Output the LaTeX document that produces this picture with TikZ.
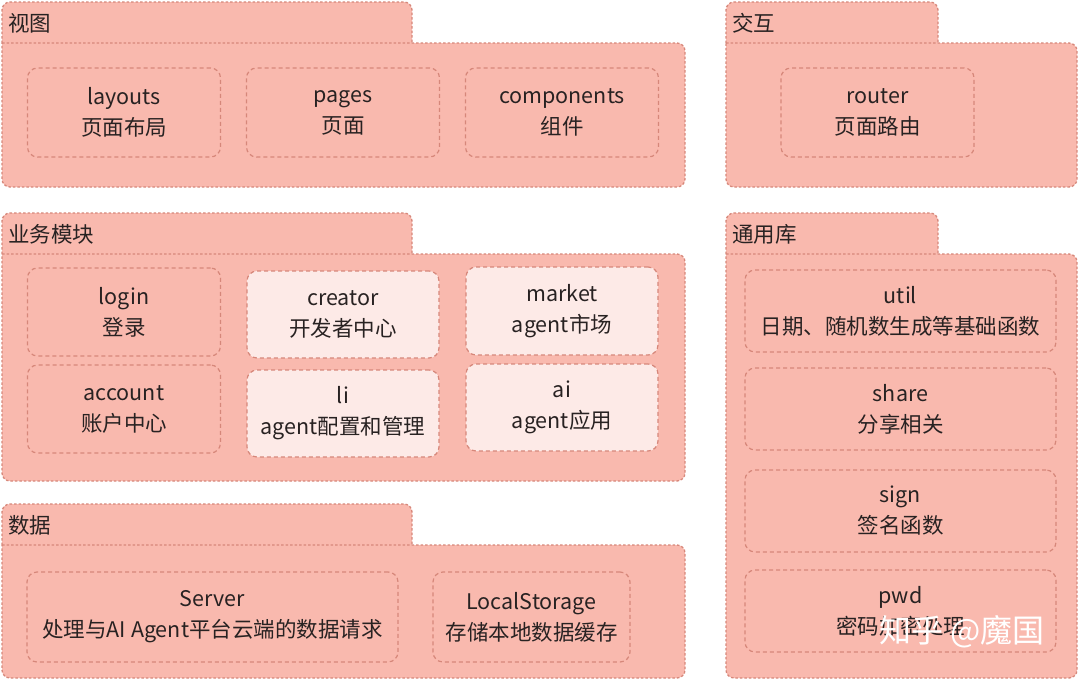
\documentclass[tikz,border=0pt]{standalone}
\usepackage{fontspec}
\setmainfont{Noto Sans CJK SC}
\usepackage{tikz}
\usetikzlibrary{positioning}
\definecolor{pkgfill}{RGB}{249,185,174}
\definecolor{pkgline}{RGB}{214,135,122}
\definecolor{modlight}{RGB}{253,234,231}
\definecolor{txt}{RGB}{40,34,34}
\newcommand{\pkg}[7]{% tab + body of one package: x, y, tab width, width, body height, name, label
  \filldraw[pkgbox] (#1,{#2+41}) [rounded corners=8pt] -- (#1,#2) -- ({#1+#3},#2) -- ({#1+#3},{#2+41});
  \filldraw[pkgbox] (#1,{#2+41}) [rounded corners=8pt] -- ({#1+#4},{#2+41}) -- ({#1+#4},{#2+41+#5})
    -- (#1,{#2+41+#5}) -- (#1,{#2+41});
  \node[pkglabel] (#6) at ({#1+4},{#2+21}) {#7};}

\begin{document}
\begin{tikzpicture}[x=1pt,y=-1pt,
    font=\fontsize{21.5}{31}\selectfont, text=txt,
    pkgbox/.style={fill=pkgfill, draw=pkgline, line width=1.3pt, dash pattern=on 2.5pt off 2pt},
    pkglabel/.style={anchor=west, inner sep=2pt},
    mod/.style={draw=pkgline, fill=pkgfill, line width=1.2pt, dash pattern=on 4pt off 3pt,
      rounded corners=10pt, align=center, inner sep=0pt, minimum width=193pt, minimum height=89pt},
    modl/.style={mod, fill=modlight},
    wmark/.style={font=\fontsize{32}{32}\selectfont, text=white, anchor=west}]
\useasboundingbox (0,0) rectangle (1080,681);

% ---- packages
\pkg{2}{2}{410}{683}{144}{view}{视图}
\pkg{726}{2}{212}{351}{144}{inter}{交互}
\pkg{2}{213}{410}{683}{227}{biz}{业务模块}
\pkg{726}{213}{212}{351}{424}{lib}{通用库}
\pkg{2}{504}{410}{683}{133}{data}{数据}

% ---- 视图
\node[mod] (layouts) at (124,112.5) {layouts\\页面布局};
\node[mod] (pages) at (343,112.5) {pages\\页面};
\node[mod] (components) at (562,112.5) {components\\组件};

% ---- 交互
\node[mod] (router) at (877.5,112.5) {router\\页面路由};

% ---- 业务模块
\node[mod, minimum height=88pt] (login) at (124,312) {login\\登录};
\node[mod, minimum height=88pt] (account) at (124,409) {account\\账户中心};
\node[modl, minimum width=192pt, minimum height=87pt] (creator) at (343,314.5) {creator\\开发者中心};
\node[modl, minimum width=192pt, minimum height=87pt] (li) at (343,413.5) {li\\agent配置和管理};
\node[modl, minimum width=192pt, minimum height=88pt] (market) at (562,311) {market\\agent市场};
\node[modl, minimum width=192pt, minimum height=87pt] (ai) at (562,407.5) {ai\\agent应用};

% ---- 数据
\node[mod, minimum width=371pt, minimum height=90pt] (server) at (212.5,617) {Server\\处理与AI Agent平台云端的数据请求};
\node[mod, minimum width=197pt, minimum height=90pt] (storage) at (531.5,617) {LocalStorage\\存储本地数据缓存};

% ---- 通用库
\node[mod, minimum width=311pt, minimum height=82pt] (util) at (900.5,311) {util\\日期、随机数生成等基础函数};
\node[mod, minimum width=311pt, minimum height=82pt] (share) at (900.5,409) {share\\分享相关};
\node[mod, minimum width=311pt, minimum height=82pt] (sign) at (900.5,511) {sign\\签名函数};
\node[mod, minimum width=311pt, minimum height=82pt] (pwd) at (900.5,611) {pwd\\密码加密处理};

\node[wmark] (mark) at (876,632) {知乎 @魔国};
\end{tikzpicture}
\end{document}
